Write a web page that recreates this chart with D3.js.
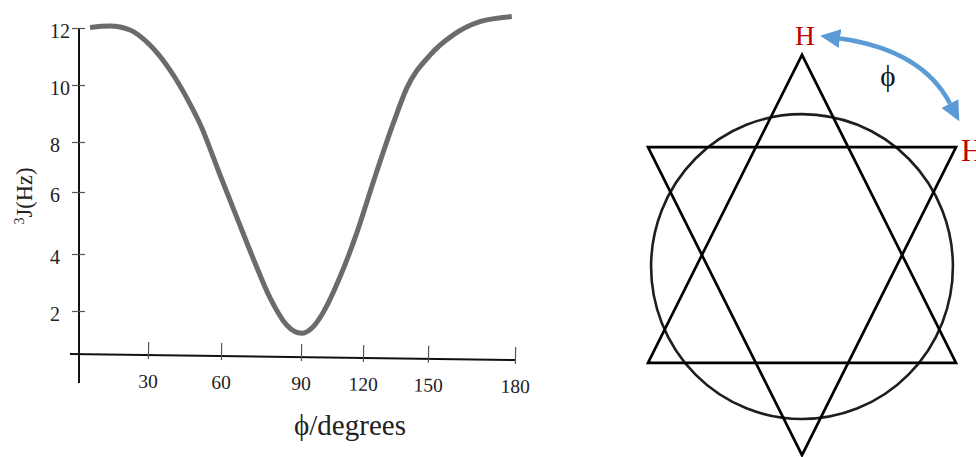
<!DOCTYPE html>
<html>
<head>
<meta charset="utf-8">
<script src="https://cdn.jsdelivr.net/npm/d3@7/dist/d3.min.js"></script>
<style>
  html, body { margin: 0; padding: 0; background: #fff; }
  svg { display: block; font-family: "Liberation Serif", "Times New Roman", serif; }
</style>
</head>
<body>
<svg id="chart" width="976" height="457"></svg>
<script>
// Karplus relation: vicinal coupling constant versus dihedral angle
const phiDegrees = [4.8, 13.5, 22.2, 30.8, 39, 47.3, 51.4, 59.6, 65.9, 72, 78.4, 84.6, 90.3, 95.2,
                    100.6, 108.9, 117, 124.6, 134, 140.2, 150.7, 158.6, 167.9, 178.9];
const couplingHz = [12.02, 12.07, 11.93, 11.4, 10.53, 9.33, 8.63, 6.68, 5.19, 3.86, 2.46, 1.35, 0.96, 1.2,
                    1.91, 3.2, 4.68, 6.36, 8.66, 9.89, 11.05, 11.75, 12.22, 12.4];
const xTickValues = [30, 60, 90, 120, 150, 180];
const yTickValues = [2, 4, 6, 8, 10, 12];

// Newman-style projection: two staggered triangles and the ring behind them
const upTriangle = [[0, -1.3], [-1, 0.7], [1, 0.7]];
const downTriangle = [[0, 1.3], [-1, -0.7], [1, -0.7]];
const ring = { cx: 0, cy: 0.075, r: 0.98 };

const svg = d3.select("#chart");

// ---- left panel: J versus phi ----
// hand-ruled axes: the tick spacing is calibrated piecewise
const x = d3.scaleLinear()
  .domain([0, 30, 60, 90, 120, 150, 180])
  .range([79, 148, 221, 301, 363, 428, 515]);
const y = d3.scaleLinear()
  .domain([0, 2, 4, 6, 8, 10, 12])
  .range([354, 311, 254, 192, 142, 85, 28]);

// x axis, drawn with a slight tilt
const tilt = Math.atan2(6, x(180) - x(0)) * 180 / Math.PI;
const xAxisG = svg.append("g")
  .attr("transform", `translate(0,${y(0)}) rotate(${tilt},${x(0)},0)`)
  .call(d3.axisBottom(x).tickValues(xTickValues).tickSizeInner(-13).tickSizeOuter(0).tickPadding(19));
xAxisG.select(".domain")
  .attr("d", `M${x(0) - 9},0H${x(180)}`)
  .attr("stroke", "#111").attr("stroke-width", 2);
xAxisG.selectAll(".tick line").attr("y1", 4).attr("stroke", "#555").attr("stroke-width", 1.2);
xAxisG.selectAll(".tick text")
  .attr("fill", "#222").attr("font-size", 19.5).attr("font-family", "Liberation Serif, serif");

// y axis
const yAxisG = svg.append("g")
  .attr("transform", `translate(${x(0)},0)`)
  .call(d3.axisLeft(y).tickValues(yTickValues).tickSizeInner(7).tickSizeOuter(0));
yAxisG.select(".domain")
  .attr("d", `M0,${y(12)}V${y(0) + 29}`)
  .attr("stroke", "#111").attr("stroke-width", 2);
yAxisG.selectAll(".tick line").attr("x2", -7).attr("x1", 6).attr("stroke", "#555").attr("stroke-width", 1.2);
yAxisG.selectAll(".tick text")
  .attr("x", -29).attr("dy", "0.45em").attr("text-anchor", "start")
  .attr("fill", "#222").attr("font-size", 20).attr("font-family", "Liberation Serif, serif");

// coupling curve
const points = phiDegrees.map((p, i) => ({ phi: p, j: couplingHz[i] }));
svg.append("path")
  .datum(points)
  .attr("fill", "none")
  .attr("stroke", "#6b6b6b")
  .attr("stroke-width", 5)
  .attr("d", d3.line().x(d => x(d.phi)).y(d => y(d.j)).curve(d3.curveMonotoneX));

// axis titles
const yTitle = svg.append("text")
  .attr("transform", `translate(32,196) rotate(-90)`)
  .attr("text-anchor", "middle")
  .attr("font-size", 22.5)
  .attr("fill", "#222");
yTitle.append("tspan").attr("font-size", 14).attr("dy", -8).text("3");
yTitle.append("tspan").attr("dy", 8).text("J(Hz)");

svg.append("text")
  .attr("x", 350).attr("y", 435)
  .attr("text-anchor", "middle")
  .attr("font-size", 29)
  .attr("fill", "#222")
  .text("ϕ/degrees");

// ---- right panel: projection diagram ----
const sx = d3.scaleLinear().domain([-1, 1]).range([648, 956]);
const sy = d3.scaleLinear().domain([-1, 1]).range([255 - 154, 255 + 154]);

svg.append("ellipse")
  .attr("cx", sx(ring.cx)).attr("cy", sy(ring.cy))
  .attr("rx", sx(ring.r) - sx(0)).attr("ry", sy(ring.r) - sy(0) + 1.5)
  .attr("fill", "none").attr("stroke", "#1e1e1e").attr("stroke-width", 2.6);

svg.selectAll("polygon.tri")
  .data([upTriangle, downTriangle])
  .join("polygon")
  .attr("class", "tri")
  .attr("points", d => d.map(p => `${sx(p[0])},${sy(p[1])}`).join(" "))
  .attr("fill", "none")
  .attr("stroke", "#000")
  .attr("stroke-width", 2.7)
  .attr("stroke-linejoin", "miter");

// dihedral-angle arrow
const defs = svg.append("defs");
defs.append("marker")
  .attr("id", "head")
  .attr("markerUnits", "userSpaceOnUse")
  .attr("viewBox", "0 -10 21 20")
  .attr("refX", 0).attr("refY", 0)
  .attr("markerWidth", 21).attr("markerHeight", 20)
  .attr("orient", "auto-start-reverse")
  .append("path")
  .attr("d", "M0,-9.5L20,0L0,9.5Z")
  .attr("fill", "#5b9bd5");

svg.append("path")
  .attr("d", "M840,38.5Q922,50 950,103.5")
  .attr("fill", "none")
  .attr("stroke", "#5b9bd5")
  .attr("stroke-width", 4.5)
  .attr("marker-start", "url(#head)")
  .attr("marker-end", "url(#head)");

svg.append("text")
  .attr("x", 805).attr("y", 44.5)
  .attr("text-anchor", "middle")
  .attr("font-size", 27.5)
  .attr("fill", "#c00000")
  .text("H");
svg.append("text")
  .attr("x", 961).attr("y", 160.5)
  .attr("text-anchor", "start")
  .attr("font-size", 31)
  .attr("fill", "#c00000")
  .text("H");
svg.append("text")
  .attr("x", 888).attr("y", 86)
  .attr("text-anchor", "middle")
  .attr("font-size", 29)
  .attr("fill", "#111")
  .text("ϕ");
</script>
</body>
</html>
